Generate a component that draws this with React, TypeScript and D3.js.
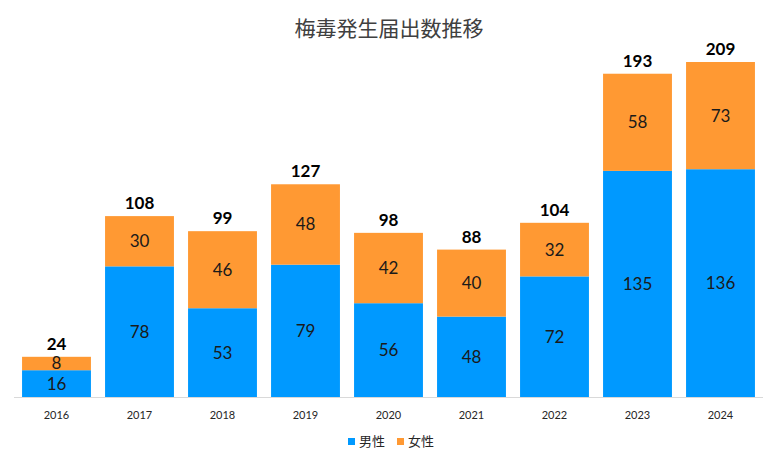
import React from "react";
import * as d3 from "d3";

const years = ["2016", "2017", "2018", "2019", "2020", "2021", "2022", "2023", "2024"];
const male = [16, 78, 53, 79, 56, 48, 72, 135, 136];
const female = [8, 30, 46, 48, 42, 40, 32, 58, 73];
const seriesNames = ["男性", "女性"];
const colors = ["#0099FF", "#FF9933"];
const yMax = 200;

const W = 777;
const H = 464;

export default function App() {
  const x = d3.scaleBand<string>().domain(years).range([15, 762]).paddingInner(0.17).paddingOuter(0.085);
  const y = d3.scaleLinear().domain([0, yMax]).range([397, 62]);
  const rows = years.map((yr, i) => ({ year: yr, male: male[i], female: female[i] }));
  const stack = d3.stack<any>().keys(["male", "female"])(rows);
  const clip = (v: number) => Math.min(v, yMax);
  const font = "Lato, 'Open Sans', sans-serif";

  return (
    <svg width={W} height={H} style={{ position: "absolute", left: 0, top: 0 }}>
      <rect width={W} height={H} fill="#fff" />
      <text x={389} y={36} textAnchor="middle" fontSize={21} fill="#404040"
        fontFamily="'Noto Sans CJK JP', sans-serif">梅毒発生届出数推移</text>
      {stack.map((s, si) => (
        <g key={si}>
          {s.map((d, i) => {
            const y0 = y(clip(d[0]));
            const y1 = y(clip(d[1]));
            return (
              <g key={i}>
                <rect x={x(years[i])} width={x.bandwidth()} y={y1} height={y0 - y1} fill={colors[si]} />
                <text x={(x(years[i]) as number) + x.bandwidth() / 2} y={(y0 + y1) / 2} dy="0.35em"
                  textAnchor="middle" fontSize={17} fill="#1a1a1a" fontFamily={font}>
                  {si === 0 ? male[i] : female[i]}
                </text>
              </g>
            );
          })}
        </g>
      ))}
      <line x1={14} x2={763} y1={397.5} y2={397.5} stroke="#d9d9d9" strokeWidth={1} />
      {years.map((yr, i) => (
        <g key={yr}>
          <text x={(x(yr) as number) + x.bandwidth() / 2} y={y(clip(male[i] + female[i])) - 7}
            textAnchor="middle" fontSize={17} fontWeight="bold" fill="#000" fontFamily={font}>
            {male[i] + female[i]}
          </text>
          <text x={(x(yr) as number) + x.bandwidth() / 2} y={419} textAnchor="middle"
            fontSize={11} fill="#262626" fontFamily={font}>{yr}</text>
        </g>
      ))}
      {seriesNames.map((n, i) => (
        <g key={n} transform={`translate(${348 + i * 49},0)`}>
          <rect x={0} y={438} width={7} height={7} fill={colors[i]} />
          <text x={11} y={446} fontSize={13} fill="#262626" fontFamily="'Noto Sans CJK JP', sans-serif">{n}</text>
        </g>
      ))}
    </svg>
  );
}
